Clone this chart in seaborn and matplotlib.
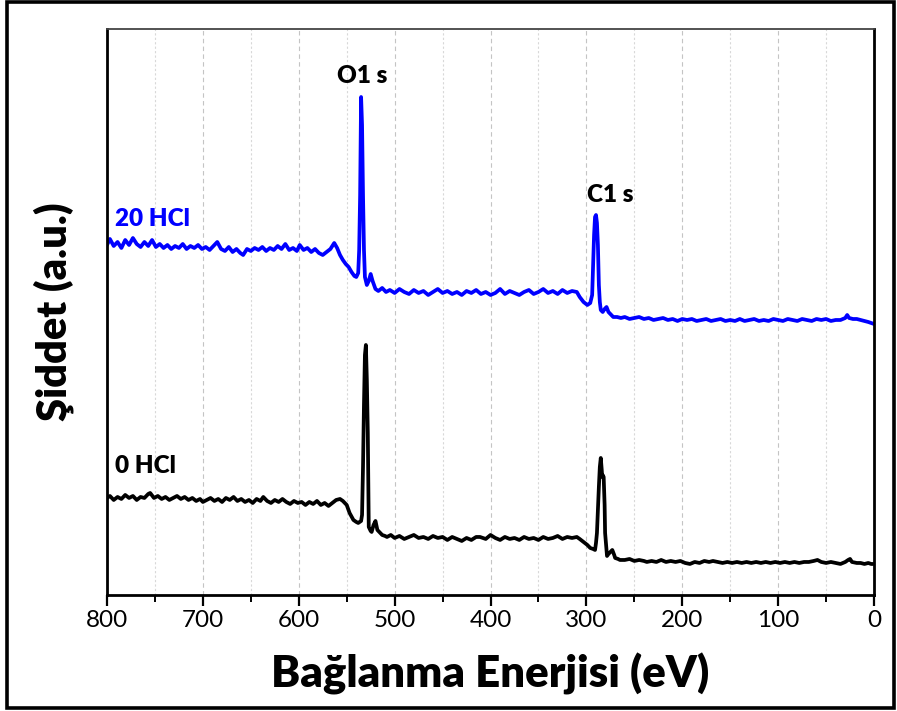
import numpy as np
import pandas as pd
import matplotlib
matplotlib.use("Agg")
import matplotlib.pyplot as plt
from matplotlib.ticker import MultipleLocator
import seaborn as sns

# binding energy (eV) / intensity (a.u.)
blue_ev = [800, 797, 793, 789, 785, 781, 777, 773, 769, 765,
           761, 757, 753, 749, 745, 741, 737, 733, 729, 725,
           721, 717, 713, 709, 705, 701, 697, 693, 689, 685,
           681, 677, 673, 669, 665, 661, 658, 654, 650, 646,
           642, 638, 634, 630, 626, 622, 618, 614, 610, 606,
           602, 599, 595, 591, 587, 583, 579, 575, 571, 567,
           563, 560, 557, 554, 551, 548, 545, 542, 540, 538,
           537, 536, 535, 534, 533, 532, 531, 529, 527, 525,
           523, 520, 517, 513, 509, 505, 500, 495, 490, 485,
           480, 475, 470, 465, 460, 455, 450, 445, 440, 435,
           430, 425, 420, 415, 410, 405, 400, 395, 390, 385,
           380, 375, 370, 365, 360, 355, 350, 345, 340, 335,
           330, 325, 320, 315, 310, 307, 303, 299, 296, 294,
           293, 292, 291, 290, 289, 288, 287, 286, 285, 283,
           281, 279, 277, 275, 272, 268, 264, 260, 255, 250,
           245, 240, 235, 230, 225, 220, 215, 210, 205, 200,
           195, 190, 185, 180, 175, 170, 165, 160, 155, 150,
           145, 140, 135, 130, 125, 120, 115, 110, 105, 100,
           95, 90, 85, 80, 75, 70, 65, 60, 55, 50,
           45, 40, 35, 30, 28, 26, 22, 18, 14, 10,
           6, 3, 0]
blue_int = [350, 356, 349, 353, 347, 355, 350, 357, 351, 348,
            353, 349, 355, 348, 351, 347, 350, 346, 349, 347,
            351, 346, 349, 347, 350, 346, 348, 345, 349, 353,
            346, 344, 348, 343, 346, 342, 340, 346, 344, 347,
            345, 348, 344, 347, 345, 349, 346, 351, 345, 347,
            344, 350, 345, 347, 343, 346, 342, 340, 343, 346,
            352, 347, 340, 335, 331, 328, 323, 319, 318, 322,
            345, 400, 498, 470, 400, 345, 318, 310, 314, 321,
            314, 306, 304, 307, 303, 305, 302, 306, 303, 301,
            305, 302, 304, 300, 303, 306, 302, 304, 301, 303,
            300, 304, 302, 305, 301, 303, 300, 302, 306, 301,
            304, 302, 300, 303, 305, 301, 303, 306, 302, 304,
            301, 305, 302, 304, 303, 298, 293, 290, 292, 300,
            330, 360, 378, 380, 372, 350, 310, 293, 285, 283,
            286, 288, 283, 281, 278, 278, 277, 278, 276, 277,
            278, 276, 277, 275, 276, 277, 275, 276, 274, 276,
            275, 276, 274, 275, 276, 274, 275, 276, 274, 275,
            274, 276, 274, 275, 276, 274, 275, 274, 276, 275,
            274, 276, 275, 274, 276, 275, 274, 276, 275, 276,
            274, 275, 275, 277, 280, 277, 276, 276, 275, 274,
            273, 272, 271]

black_ev = [800, 797, 793, 789, 785, 781, 777, 773, 769, 765,
            761, 757, 755, 751, 747, 743, 739, 735, 731, 727,
            723, 719, 715, 711, 707, 703, 700, 696, 692, 688,
            684, 680, 676, 672, 668, 664, 660, 656, 652, 648,
            644, 640, 637, 633, 629, 625, 621, 617, 613, 609,
            605, 601, 597, 593, 589, 585, 581, 577, 573, 569,
            565, 561, 557, 554, 550, 547, 543, 540, 538, 535,
            534, 533, 532, 531, 530, 529, 528, 527, 525, 524,
            522, 520, 518, 515, 513, 510, 508, 504, 500, 495,
            490, 485, 480, 475, 470, 465, 460, 455, 450, 445,
            440, 435, 430, 425, 420, 415, 411, 405, 400, 395,
            390, 385, 380, 375, 370, 365, 360, 355, 350, 345,
            340, 335, 330, 325, 320, 315, 310, 307, 303, 299,
            296, 293, 291, 290, 289, 288, 287, 286, 285, 284,
            283.5, 283, 282, 281, 280.5, 279, 278.5, 277, 275, 273,
            271, 270, 267, 265, 260, 255, 250, 245, 240, 237,
            232, 227, 222, 217, 212, 207, 202, 197, 192, 187,
            182, 177, 172, 168, 163, 158, 153, 148, 143, 138,
            133, 128, 123, 118, 113, 108, 103, 98, 93, 88,
            83, 78, 73, 68, 63, 59, 55, 50, 45, 40,
            35, 30, 27, 25, 23, 18, 14, 10, 6, 3,
            1]
black_int = [97, 99, 95, 98, 96, 100, 97, 99, 95, 98,
             97, 101, 102, 97, 99, 96, 98, 95, 97, 99,
             96, 98, 95, 97, 94, 96, 93, 95, 97, 94,
             96, 93, 97, 95, 98, 94, 96, 93, 95, 92,
             96, 94, 98, 94, 92, 95, 93, 96, 93, 91,
             94, 92, 93, 90, 93, 91, 94, 90, 92, 89,
             92, 95, 96, 94, 90, 82, 75, 73, 72, 74,
             80, 128, 190, 240, 250, 215, 162, 68, 64, 63,
             70, 74, 65, 62, 60, 59, 58, 60, 57, 59,
             56, 58, 60, 57, 58, 56, 59, 57, 58, 55,
             58, 56, 54, 57, 55, 58, 58, 56, 60, 57,
             55, 58, 56, 57, 55, 58, 56, 57, 55, 58,
             56, 57, 59, 56, 58, 57, 58, 56, 53, 50,
             47, 46, 45, 52, 62, 85, 108, 128, 137, 125,
             118, 120, 118, 90, 62, 45, 39, 41, 43, 45,
             40, 37, 36, 35, 35, 36, 34, 35, 34, 33,
             34, 33, 35, 33, 34, 33, 34, 32, 31, 33,
             32, 34, 33, 34, 33, 32, 33, 32, 33, 32,
             33, 32, 33, 32, 33, 32, 33, 32, 33, 32,
             33, 32, 33, 33, 34, 35, 33, 32, 33, 32,
             31, 33, 35, 36, 33, 32, 32, 31, 32, 31,
             31]

df = pd.concat([
    pd.DataFrame({"ev": blue_ev, "inten": blue_int, "sample": "20 HCl"}),
    pd.DataFrame({"ev": black_ev, "inten": black_int, "sample": "0 HCl"}),
])

sns.set_style("white")
plt.rcParams["font.family"] = ["Lato", "DejaVu Sans"]
plt.rcParams["text.color"] = "black"
plt.rcParams["axes.labelcolor"] = "black"
plt.rcParams["xtick.color"] = "black"

fig = plt.figure(figsize=(8.97, 7.11), dpi=100)
ax = fig.add_axes([0.1193, 0.1632, 0.8551, 0.796])

sns.lineplot(data=df, x="ev", y="inten", hue="sample",
             palette={"20 HCl": "#0000ff", "0 HCl": "black"},
             linewidth=2.7, legend=False, ax=ax, estimator=None)

ax.set_xlim(800, 0)
ax.set_ylim(0, 566)
ax.xaxis.set_major_locator(MultipleLocator(100))
ax.xaxis.set_minor_locator(MultipleLocator(50))
ax.set_yticks([])
ax.grid(True, axis="x", which="major", ls=(0, (4, 3)), color="#c4c4c4", lw=0.8)
ax.grid(True, axis="x", which="minor", ls=(0, (2, 2)), color="#d8d8d8", lw=0.8)
ax.set_axisbelow(True)

ax.tick_params(axis="x", which="major", direction="out", length=8, width=1.6,
               pad=3, labelsize=17.5, bottom=True, colors="black")
ax.tick_params(axis="x", which="minor", direction="out", length=5, width=1.4,
               bottom=True, colors="black")

for side in ["left", "bottom", "right"]:
    ax.spines[side].set_color("black")
    ax.spines[side].set_linewidth(2)
ax.spines["top"].set_color("#444444")
ax.spines["top"].set_linewidth(1.3)

ax.set_xlabel("Bağlanma Enerjisi (eV)", fontsize=31.5, fontweight="heavy",
              color="black")
ax.xaxis.set_label_coords(0.5, -0.164)
ax.xaxis.label.set_va("baseline")
ax.set_ylabel("Şiddet (a.u.)", fontsize=30, fontweight="heavy", color="black")
ax.yaxis.set_label_coords(-0.069, 0.5)
ax.yaxis.label.set_va("center")

ax.text(791.6, 369, "20 HCl", color="#0000ff", fontsize=17.5, fontweight="heavy",
        ha="left", va="baseline")
ax.text(791.6, 122, "0 HCl", color="black", fontsize=17.5, fontweight="heavy",
        ha="left", va="baseline")
ax.text(534, 512, "O1 s", color="black", fontsize=17.5, fontweight="heavy",
        ha="center", va="baseline")
ax.text(275, 393, "C1 s", color="black", fontsize=17.5, fontweight="heavy",
        ha="center", va="baseline")

# outer frame of the picture
fig.add_artist(plt.Rectangle((0.008, 0.004), 0.989, 0.993, transform=fig.transFigure,
                             fill=False, ec="black", lw=2.6))

fig.savefig("out.png", dpi=100)
